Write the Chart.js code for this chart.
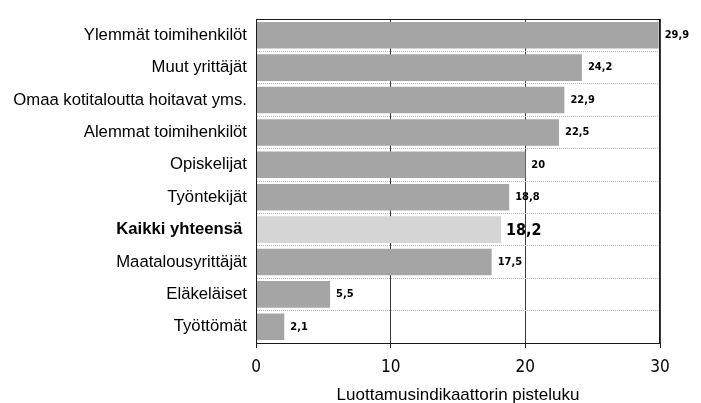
<!DOCTYPE html>
<html>
<head>
<meta charset="utf-8">
<script src="https://cdn.jsdelivr.net/npm/chart.js@4.4.1/dist/chart.umd.min.js"></script>
<style>
  html, body { margin: 0; padding: 0; background: #fff; }
</style>
</head>
<body>
<canvas id="chart" width="701" height="403"></canvas>
<script>
// Luokat ja arvot
var categories = [
  'Ylemmät toimihenkilöt',
  'Muut yrittäjät',
  'Omaa kotitaloutta hoitavat yms.',
  'Alemmat toimihenkilöt',
  'Opiskelijat',
  'Työntekijät',
  'Kaikki yhteensä ',
  'Maatalousyrittäjät',
  'Eläkeläiset',
  'Työttömät'
];
var values = [29.9, 24.2, 22.9, 22.5, 20, 18.8, 18.2, 17.5, 5.5, 2.1];
var totalIndex = 6;
var xTicks = [0, 10, 20, 30];
var axisTitle = 'Luottamusindikaattorin pisteluku';

var narrow = "'Liberation Sans Narrow', 'DejaVu Sans Condensed', 'Liberation Sans', sans-serif";
var sans = "'Liberation Sans', Arial, sans-serif";

// arvot palkkien perään
var valueLabels = {
  id: 'valueLabels',
  afterDatasetsDraw: function (chart) {
    var ctx = chart.ctx;
    var meta = chart.getDatasetMeta(0);
    ctx.save();
    ctx.fillStyle = '#000';
    ctx.textBaseline = 'middle';
    ctx.textAlign = 'left';
    meta.data.forEach(function (bar, i) {
      var big = i === totalIndex;
      ctx.font = 'bold ' + (big ? 16 : 11) + 'px ' + narrow;
      var txt = String(values[i]).replace('.', ',');
      ctx.fillText(txt, bar.x + (big ? 5 : 6), bar.y + (big ? 1 : 0));
    });
    ctx.restore();
  }
};

// kehys piirtoalueen ympärille
var frame = {
  id: 'frame',
  afterDatasetsDraw: function (chart) {
    var a = chart.chartArea;
    var ctx = chart.ctx;
    ctx.save();
    ctx.strokeStyle = '#1a1a1a';
    ctx.lineWidth = 1;
    ctx.strokeRect(Math.round(a.left) + 0.5, Math.round(a.top) + 0.5,
      Math.round(a.right - a.left) - 1, Math.round(a.bottom - a.top));
    ctx.restore();
  }
};

var ctx = document.getElementById('chart').getContext('2d');
var chart = new Chart(ctx, {
  type: 'bar',
  data: {
    labels: categories,
    datasets: [{
      data: values,
      backgroundColor: values.map(function (v, i) { return i === totalIndex ? '#d5d5d5' : '#a5a5a5'; }),
      borderWidth: 0,
      barPercentage: 0.82,
      categoryPercentage: 1
    }]
  },
  options: {
    indexAxis: 'y',
    responsive: false,
    animation: false,
    layout: { padding: { top: 9, right: 41, left: 0, bottom: 0 } },
    plugins: {
      legend: { display: false },
      tooltip: { enabled: false }
    },
    scales: {
      x: {
        min: 0,
        max: 30,
        afterFit: function (scale) { scale.height = 60; },
        afterBuildTicks: function (scale) {
          scale.ticks = xTicks.map(function (v) { return { value: v }; });
        },
        grid: {
          color: '#3c3c3c',
          lineWidth: 1,
          drawTicks: true,
          tickLength: 5,
          tickColor: '#1a1a1a'
        },
        border: { display: true, color: '#1a1a1a' },
        ticks: {
          color: '#000',
          padding: 9,
          font: { family: narrow, size: 17 }
        },
        title: {
          display: true,
          text: axisTitle,
          color: '#000',
          padding: { top: 0, bottom: -3 },
          font: { family: sans, size: 17 }
        }
      },
      y: {
        afterFit: function (scale) { scale.width = 256; },
        grid: {
          color: '#b5b5b5',
          lineWidth: 1,
          drawTicks: false
        },
        border: { display: true, color: '#1a1a1a', dash: [1, 1] },
        ticks: {
          color: '#000',
          padding: 9,
          font: function (c) {
            return {
              family: sans,
              size: 16.7,
              weight: c.index === totalIndex ? 'bold' : 'normal'
            };
          }
        }
      }
    }
  },
  plugins: [valueLabels, frame]
});
</script>
</body>
</html>
